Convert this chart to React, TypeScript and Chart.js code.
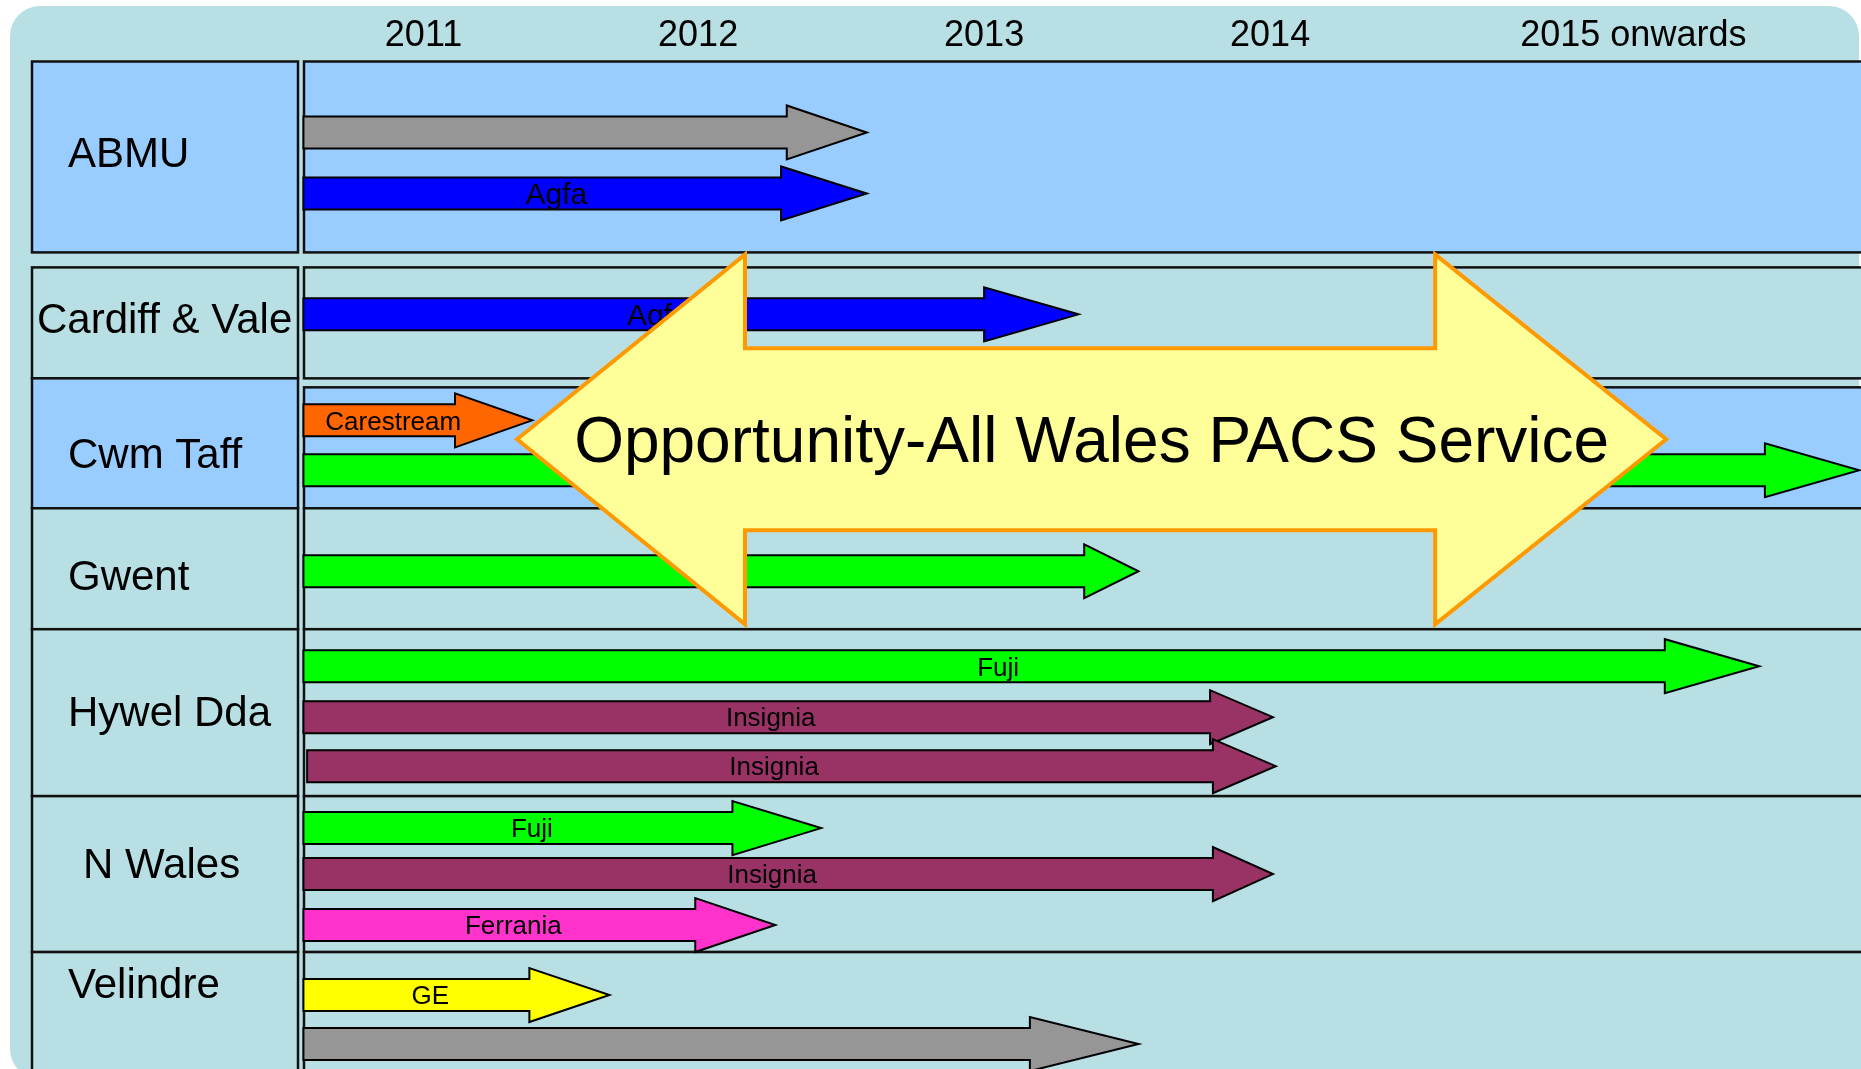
import React, { useEffect, useRef } from "react";
import { Chart, registerables } from "chart.js";

Chart.register(...registerables);

// ---------- data ----------
const yearLabels = ["2011", "2012", "2013", "2014", "2015 onwards"];
const yearTickValues = [2011.54, 2012.5, 2013.5, 2014.5, 2015.77];

const rowNames = ["ABMU", "Cardiff & Vale", "Cwm Taff", "Gwent", "Hywel Dda", "N Wales", "Velindre"];
const rowTops = [0, 20.6, 32.6, 44.7, 56.8, 73.5, 89.1];
const rowLabelTops = [0, 20.6, 31.7, 44.7, 56.8, 73.5, 89.1];
const rowBottoms = [19.1, 31.7, 44.7, 56.8, 73.5, 89.1, 103];
const rowHighlighted = [true, false, true, false, false, false, false];
const rowLabelY = [9.1, 25.7, 39.2, 51.4, 65.0, 80.2, 92.2];

const arrowRows = [
  "ABMU", "ABMU", "Cardiff & Vale", "Cwm Taff", "Cwm Taff", "Gwent",
  "Hywel Dda", "Hywel Dda", "Hywel Dda", "N Wales", "N Wales", "N Wales", "Velindre", "Velindre",
];
const arrowVendors = [
  "", "Agfa", "Agfa", "Carestream", "Fuji", "Fuji",
  "Fuji", "Insignia", "Insignia", "Fuji", "Insignia", "Ferrania", "GE", "",
];
const arrowLanes = [7.1, 13.2, 25.3, 35.9, 40.9, 51.0, 60.5, 65.6, 70.5, 76.7, 81.3, 86.4, 93.4, 98.3];
const arrowStarts = [
  2011.12, 2011.12, 2011.12, 2011.12, 2011.12, 2011.12,
  2011.12, 2011.12, 2011.133, 2011.12, 2011.12, 2011.12, 2011.12, 2011.12,
];
const arrowHeadStarts = [
  2012.81, 2012.79, 2013.5, 2011.65, 2016.23, 2013.85,
  2015.88, 2014.29, 2014.3, 2012.62, 2014.3, 2012.49, 2011.91, 2013.66,
];
const arrowTips = [
  2013.09, 2013.09, 2013.83, 2011.92, 2016.56, 2014.04,
  2016.21, 2014.51, 2014.52, 2012.93, 2014.51, 2012.77, 2012.19, 2014.04,
];

const bigArrowText = "Opportunity-All Wales PACS Service";
const bigArrowFrom = 2011.867;
const bigArrowTo = 2015.885;
const bigArrowHeadLeft = 2012.664;
const bigArrowHeadRight = 2015.077;
const bigArrowY = 37.8;
const bigArrowShaftHalf = 9.1;
const bigArrowHeadHalf = 18.5;

// ---------- styles ----------
const FONT = "'Liberation Sans', Arial, sans-serif";
const TEAL = "#B8E0E4";
const LIGHT_BLUE = "#99CCFF";
const vendorColors: Record<string, string> = {
  "": "#969696",
  Agfa: "#0000FF",
  Carestream: "#FF6600",
  Fuji: "#00FF00",
  Insignia: "#993366",
  Ferrania: "#FF33CC",
  GE: "#FFFF00",
};
const rowLabelIndent: Record<string, number> = { "Cardiff & Vale": 37, "N Wales": 83 };

const diagramPlugin = {
  id: "diagram",
  beforeDraw(chart: any) {
    const { ctx, chartArea, scales } = chart;
    const ys = scales.y;
    ctx.save();
    ctx.fillStyle = "#ffffff";
    ctx.fillRect(0, 0, chart.width, chart.height);
    // rounded panel
    ctx.fillStyle = TEAL;
    ctx.beginPath();
    ctx.roundRect(10, 6, chart.width - 12, chart.height + 4, 30);
    ctx.fill();

    ctx.lineWidth = 2.5;
    ctx.strokeStyle = "#111";
    // content boxes
    for (let i = 0; i < rowNames.length; i++) {
      const top = ys.getPixelForValue(rowTops[i]);
      const bottom = ys.getPixelForValue(rowBottoms[i]);
      const left = chartArea.left;
      const w = chartArea.right + 20 - left;
      ctx.fillStyle = rowHighlighted[i] ? LIGHT_BLUE : TEAL;
      ctx.fillRect(left, top, w, bottom - top);
      ctx.strokeRect(left, top, w, bottom - top);
    }
    // label boxes
    const lLeft = 32;
    const lRight = chartArea.left - 6;
    for (let i = 0; i < rowNames.length; i++) {
      const top = ys.getPixelForValue(rowLabelTops[i]);
      const bottom = ys.getPixelForValue(rowBottoms[i]);
      ctx.fillStyle = rowHighlighted[i] ? LIGHT_BLUE : TEAL;
      ctx.fillRect(lLeft, top, lRight - lLeft, bottom - top);
      ctx.strokeRect(lLeft, top, lRight - lLeft, bottom - top);
    }
    // row labels
    ctx.fillStyle = "#000";
    ctx.font = `42px ${FONT}`;
    ctx.textAlign = "left";
    ctx.textBaseline = "alphabetic";
    for (let i = 0; i < rowNames.length; i++) {
      const yc = ys.getPixelForValue(rowLabelY[i]);
      const x = rowLabelIndent[rowNames[i]] ?? 68;
      ctx.fillText(rowNames[i], x, yc + 0.358 * 42);
    }
    ctx.restore();
  },
  afterDatasetsDraw(chart: any) {
    const { ctx, scales } = chart;
    const xs = scales.x;
    const meta = chart.getDatasetMeta(0);
    const headHalf = 27;
    ctx.save();
    ctx.lineWidth = 2;
    ctx.strokeStyle = "#000";
    ctx.lineJoin = "miter";
    meta.data.forEach((el: any, i: number) => {
      const p = el.getProps(["x", "y", "base", "height"], true);
      const h = p.height / 2;
      const tip = xs.getPixelForValue(arrowTips[i]);
      ctx.beginPath();
      ctx.moveTo(p.base, p.y - h);
      ctx.lineTo(p.x, p.y - h);
      ctx.lineTo(p.x, p.y - headHalf);
      ctx.lineTo(tip, p.y);
      ctx.lineTo(p.x, p.y + headHalf);
      ctx.lineTo(p.x, p.y + h);
      ctx.lineTo(p.base, p.y + h);
      ctx.closePath();
      ctx.fillStyle = vendorColors[arrowVendors[i]];
      ctx.fill();
      ctx.stroke();
    });
    ctx.fillStyle = "#000";
    ctx.textAlign = "center";
    ctx.textBaseline = "alphabetic";
    meta.data.forEach((el: any, i: number) => {
      const label = arrowVendors[i];
      if (!label) return;
      const p = el.getProps(["x", "y", "base"], true);
      const fs = label === "Agfa" ? 30 : 26;
      ctx.font = `${fs}px ${FONT}`;
      ctx.fillText(label, (p.base + p.x) / 2 + 14, p.y + 0.358 * fs);
    });
    ctx.restore();
  },
  afterDraw(chart: any) {
    const { ctx, scales } = chart;
    const xs = scales.x;
    const ys = scales.y;
    const x0 = xs.getPixelForValue(bigArrowFrom);
    const x1 = xs.getPixelForValue(bigArrowHeadLeft);
    const x2 = xs.getPixelForValue(bigArrowHeadRight);
    const x3 = xs.getPixelForValue(bigArrowTo);
    const yc = ys.getPixelForValue(bigArrowY);
    const sTop = ys.getPixelForValue(bigArrowY - bigArrowShaftHalf);
    const sBot = ys.getPixelForValue(bigArrowY + bigArrowShaftHalf);
    const hTop = ys.getPixelForValue(bigArrowY - bigArrowHeadHalf);
    const hBot = ys.getPixelForValue(bigArrowY + bigArrowHeadHalf);
    ctx.save();
    ctx.beginPath();
    ctx.moveTo(x0, yc);
    ctx.lineTo(x1, hTop);
    ctx.lineTo(x1, sTop);
    ctx.lineTo(x2, sTop);
    ctx.lineTo(x2, hTop);
    ctx.lineTo(x3, yc);
    ctx.lineTo(x2, hBot);
    ctx.lineTo(x2, sBot);
    ctx.lineTo(x1, sBot);
    ctx.lineTo(x1, hBot);
    ctx.closePath();
    ctx.fillStyle = "#FFFF99";
    ctx.fill();
    ctx.lineWidth = 4;
    ctx.strokeStyle = "#FF9900";
    ctx.lineJoin = "miter";
    ctx.stroke();
    ctx.fillStyle = "#000";
    ctx.font = `64px ${FONT}`;
    ctx.textAlign = "center";
    ctx.textBaseline = "alphabetic";
    ctx.fillText(bigArrowText, (x0 + x3) / 2, yc + 0.358 * 64);
    ctx.restore();
  },
};

export default function App() {
  const ref = useRef<HTMLCanvasElement | null>(null);
  useEffect(() => {
    if (!ref.current) return;
    const chart = new Chart(ref.current, {
      type: "bar",
      data: {
        datasets: [
          {
            label: "Systems",
            data: arrowLanes.map((lane, i) => ({ x: [arrowStarts[i], arrowHeadStarts[i]], y: lane, row: arrowRows[i] })) as any,
            backgroundColor: arrowVendors.map((v) => vendorColors[v]),
            borderWidth: 0,
            barThickness: 32,
          },
        ],
      },
      options: {
        indexAxis: "y",
        responsive: false,
        animation: false,
        events: [],
        layout: { padding: { left: 304, top: 10.3, right: 0, bottom: 0 } },
        plugins: { legend: { display: false }, tooltip: { enabled: false }, title: { display: false } },
        scales: {
          x: {
            type: "linear",
            position: "top",
            min: 2011.122,
            max: 2016.566,
            grid: { display: false, drawTicks: false },
            border: { display: false },
            afterBuildTicks: (scale: any) => {
              scale.ticks = yearTickValues.map((v) => ({ value: v }));
            },
            ticks: {
              autoSkip: false,
              maxRotation: 0,
              padding: 4,
              color: "#000",
              font: { family: FONT, size: 36 },
              callback: (_v: any, i: number) => yearLabels[i],
            },
          },
          y: {
            type: "linear",
            display: false,
            min: 0,
            max: 100.8,
            reverse: true,
            offset: false,
          },
        },
      },
      plugins: [diagramPlugin],
    } as any);
    return () => chart.destroy();
  }, []);
  return (
    <div style={{ position: "absolute", left: 0, top: 0, width: 1861, height: 1069 }}>
      <canvas ref={ref} width={1861} height={1069} style={{ width: 1861, height: 1069, display: "block" }} />
    </div>
  );
}
